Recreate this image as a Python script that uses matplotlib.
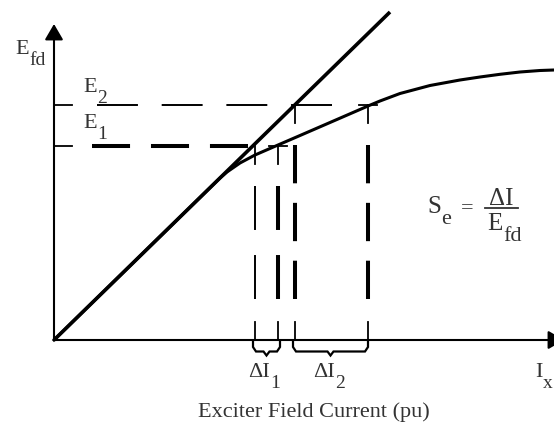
import numpy as np
import matplotlib
matplotlib.use('Agg')
from matplotlib import pyplot as plt

plt.rcParams['font.family'] = 'Liberation Serif'
plt.rcParams['lines.scale_dashes'] = False

# air-gap line and open-circuit saturation curve (pu)
air_gap_x = [0.0, 3.36]
air_gap_y = [0.0, 3.28]

sat_x = [0.0, 1.66, 1.73, 1.86, 2.01, 2.24, 2.46, 2.76, 3.14, 3.26, 3.46, 3.76, 4.06,
         4.26, 4.46, 4.66, 4.86, 5.00]
sat_y = [0.0, 1.62, 1.68, 1.77, 1.85, 1.95, 2.045, 2.175, 2.34, 2.39, 2.465, 2.545, 2.60,
         2.63, 2.657, 2.68, 2.695, 2.70]

# field voltage levels and the matching currents
e_levels = [1.94, 2.35]
i_line = [2.01, 2.41]   # on the air-gap line
i_sat = [2.24, 3.14]    # on the saturation curve

PT = 72.0  # points per data unit (100 px per unit at 100 dpi)
TXT = '#333333'
FS = 16

fig = plt.figure(figsize=(5.54, 4.23), dpi=100)
ax = fig.add_axes([0, 0, 1, 1])
ax.set_xlim(-0.54, 5.00)
ax.set_ylim(-0.83, 3.40)
ax.set_axis_off()


def dashed(x0, y0, x1, y1, n, gap, lw):
    # n dashes spread evenly between the two ends, gap given as a fraction of a dash
    length = np.hypot(x1 - x0, y1 - y0) * PT
    on = length / (n + (n - 1) * gap)
    ax.plot([x0, x1], [y0, y1], color='k', lw=lw, solid_capstyle='butt',
            dash_capstyle='butt', linestyle=(0, (on, on * gap)))


def brace(x0, x1, lw=1.6):
    xm = (x0 + x1) / 2
    bx = [x0, x0, x0 + 0.03, xm - 0.03, xm, xm + 0.03, x1 - 0.03, x1, x1]
    by = [-0.02, -0.07, -0.115, -0.115, -0.155, -0.115, -0.115, -0.07, -0.02]
    ax.plot(bx, by, color='k', lw=lw, solid_joinstyle='miter')


def label(x, y, main, sub, fs=FS, drop=7):
    # letter with a dropped subscript right after it
    t = ax.text(x, y, main, fontsize=fs, color=TXT, va='baseline')
    ax.annotate(sub, xy=(1, 0), xycoords=t, xytext=(0.5, -drop), textcoords='offset points',
                fontsize=fs - 2, color=TXT, va='bottom')
    return t


# axes with arrow heads
arrow = dict(arrowstyle='-|>,head_length=0.6,head_width=0.35', color='k', lw=1.5,
             mutation_scale=16, shrinkA=0, shrinkB=0)
ax.annotate('', xy=(0, 3.16), xytext=(0, 0), arrowprops=arrow, annotation_clip=False)
ax.annotate('', xy=(5.10, 0), xytext=(0, 0), arrowprops=arrow, annotation_clip=False)

ax.plot(air_gap_x, air_gap_y, color='k', lw=2.6, solid_capstyle='butt')
ax.plot(sat_x, sat_y, color='k', lw=2.2, solid_joinstyle='round')

tick = 0.18

# E1: thick dashes up to the air-gap line
e1, e2 = e_levels
ax.plot([0, tick], [e1, e1], color='k', lw=1.3)
dashed(0.38, e1, i_line[0] - 0.07, e1, 3, 0.55, 2.9)

# E2: thin dashes
ax.plot([0, tick], [e2, e2], color='k', lw=1.3)
dashed(0.43, e2, i_line[1] + 0.37, e2, 4, 0.58, 1.4)

# drop lines from each point down to the current axis
for k, (lvl, xa, xb) in enumerate(zip(e_levels, i_line, i_sat)):
    for j, x in enumerate((xa, xb)):
        ax.plot([x, x], [lvl, lvl - tick], color='k', lw=1.3)
        ax.plot([x, x], [0, tick], color='k', lw=1.3)
        thick = 1.4 if (k == 0 and j == 0) else 2.9
        n, gap = (2, 0.57) if k == 0 else (3, 0.51)
        dashed(x, lvl - 0.40, x, 0.41, n, gap, thick)
    ax.plot([xb - 0.09, xb + 0.09], [lvl, lvl], color='k', lw=1.3)

brace(i_line[0] - 0.02, i_sat[0] + 0.02)
brace(i_line[1] - 0.02, i_sat[1])

# labels
label(-0.39, 2.86, 'E', 'fd')
label(0.29, 2.48, 'E', '2')
label(0.29, 2.12, 'E', '1')
label(1.94, -0.37, '\u0394I', '1')
label(2.59, -0.37, '\u0394I', '2')
label(4.81, -0.37, 'I', 'x')
ax.text(2.60, -0.72, 'Exciter Field Current (pu)', fontsize=FS, color=TXT,
        ha='center', va='center')

# saturation factor
FF = 18
label(3.73, 1.27, 'S', 'e', fs=FF, drop=8)
ax.text(4.13, 1.27, '=', fontsize=FF - 2, color=TXT, ha='center', va='baseline')
ax.plot([4.31, 4.64], [1.32, 1.32], color=TXT, lw=1.3)
ax.text(4.475, 1.35, '\u0394I', fontsize=FF, color=TXT, ha='center', va='baseline')
label(4.33, 1.10, 'E', 'fd', fs=FF, drop=8)

fig.savefig('out.png', dpi=100)
